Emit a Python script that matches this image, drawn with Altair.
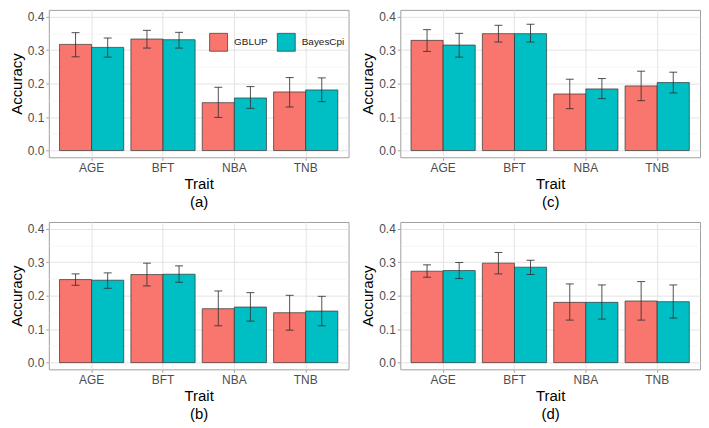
import altair as alt
import pandas as pd

traits = ["AGE", "BFT", "NBA", "TNB"]
methods = ["GBLUP", "BayesCpi"]
colors = ["#F8766D", "#00BFC4"]
panel_labels = ["(a)", "(c)", "(b)", "(d)"]

# panel (a)
a_g_mean = [0.317, 0.333, 0.143, 0.175]
a_g_lo = [0.280, 0.306, 0.099, 0.130]
a_g_hi = [0.352, 0.359, 0.189, 0.218]
a_b_mean = [0.308, 0.331, 0.157, 0.181]
a_b_lo = [0.279, 0.306, 0.126, 0.146]
a_b_hi = [0.336, 0.353, 0.191, 0.217]
# panel (b)
b_g_mean = [0.248, 0.263, 0.161, 0.149]
b_g_lo = [0.231, 0.229, 0.110, 0.097]
b_g_hi = [0.265, 0.297, 0.214, 0.201]
b_b_mean = [0.246, 0.264, 0.166, 0.154]
b_b_lo = [0.222, 0.240, 0.124, 0.110]
b_b_hi = [0.268, 0.289, 0.209, 0.198]
# panel (c)
c_g_mean = [0.329, 0.349, 0.169, 0.193]
c_g_lo = [0.296, 0.324, 0.125, 0.149]
c_g_hi = [0.361, 0.374, 0.213, 0.237]
c_b_mean = [0.315, 0.349, 0.184, 0.203]
c_b_lo = [0.279, 0.324, 0.155, 0.172]
c_b_hi = [0.350, 0.377, 0.215, 0.234]
# panel (d)
d_g_mean = [0.273, 0.297, 0.180, 0.184]
d_g_lo = [0.255, 0.265, 0.127, 0.127]
d_g_hi = [0.292, 0.329, 0.235, 0.242]
d_b_mean = [0.275, 0.285, 0.180, 0.182]
d_b_lo = [0.251, 0.263, 0.130, 0.133]
d_b_hi = [0.299, 0.306, 0.232, 0.232]

y_ticks = [0.0, 0.05, 0.1, 0.15, 0.2, 0.25, 0.3, 0.35, 0.4]

panel_data = {
    "(a)": (a_g_mean, a_g_lo, a_g_hi, a_b_mean, a_b_lo, a_b_hi),
    "(b)": (b_g_mean, b_g_lo, b_g_hi, b_b_mean, b_b_lo, b_b_hi),
    "(c)": (c_g_mean, c_g_lo, c_g_hi, c_b_mean, c_b_lo, c_b_hi),
    "(d)": (d_g_mean, d_g_lo, d_g_hi, d_b_mean, d_b_lo, d_b_hi),
}

W = 301
H = 148

minor_test = "round(datum.value * 20) % 2 == 1"


def make_panel(label, show_legend):
    gm, gl, gh, bm, bl, bh = panel_data[label]
    rows = []
    for i, t in enumerate(traits):
        rows.append({"Trait": t, "Method": "GBLUP", "Accuracy": gm[i], "lo": gl[i], "hi": gh[i]})
        rows.append({"Trait": t, "Method": "BayesCpi", "Accuracy": bm[i], "lo": bl[i], "hi": bh[i]})
    df = pd.DataFrame(rows)

    yscale = alt.Scale(domain=[-0.02, 0.42], nice=False, zero=False)
    yaxis = alt.Axis(
        title="Accuracy",
        values=y_ticks,
        labelExpr="round(datum.value * 20) % 2 == 0 ? format(datum.value, '.1f') : ''",
        grid=True,
        gridColor={"condition": {"test": minor_test, "value": "#F0F0F0"}, "value": "#E3E3E3"},
        gridWidth={"condition": {"test": minor_test, "value": 0.6}, "value": 1},
        tickColor={"condition": {"test": minor_test, "value": "transparent"}, "value": "#A0A0A0"},
    )
    xscale = alt.Scale(paddingInner=0.1, paddingOuter=0.15)
    xaxis = alt.Axis(
        title=["Trait", label],
        labelAngle=0,
        grid=True,
        bandPosition=0.5,
        gridColor="#E3E3E3",
        tickColor="#A0A0A0",
    )
    xenc = alt.X("Trait:N", sort=traits, scale=xscale, axis=xaxis)
    xoff = alt.XOffset("Method:N", sort=methods, scale=alt.Scale(paddingInner=0, paddingOuter=0))

    if show_legend:
        legend = alt.Legend(
            orient="none", legendX=161, legendY=23, direction="horizontal", title=None,
            symbolType="square", symbolSize=324, symbolStrokeColor="#333333",
            symbolStrokeWidth=0.7, labelFontSize=10, labelColor="#1A1A1A",
            columnPadding=8, labelOffset=6, symbolOpacity=1,
        )
    else:
        legend = None

    base = alt.Chart(df)
    bars = base.mark_bar(stroke="#333333", strokeWidth=0.7, opacity=1).encode(
        x=xenc, xOffset=xoff,
        y=alt.Y("Accuracy:Q", scale=yscale, axis=yaxis, stack=None),
        color=alt.Color("Method:N", sort=methods,
                        scale=alt.Scale(domain=methods, range=colors), legend=legend),
    )
    rules = base.mark_rule(color="#333333", strokeWidth=1, opacity=0.85).encode(
        x=xenc, xOffset=xoff,
        y=alt.Y("lo:Q", scale=yscale, axis=yaxis),
        y2="hi:Q",
    )
    cap_lo = base.mark_tick(color="#333333", size=8, thickness=1, opacity=0.85).encode(
        x=xenc, xOffset=xoff, y=alt.Y("lo:Q", scale=yscale, axis=yaxis),
    )
    cap_hi = base.mark_tick(color="#333333", size=8, thickness=1, opacity=0.85).encode(
        x=xenc, xOffset=xoff, y=alt.Y("hi:Q", scale=yscale, axis=yaxis),
    )
    return alt.layer(bars, rules, cap_lo, cap_hi).properties(width=W, height=H)


charts = [make_panel(lbl, lbl == "(a)") for lbl in panel_labels]

chart = alt.concat(*charts, columns=2, spacing={"row": 11, "column": 10}).resolve_scale(
    color="independent"
).resolve_legend(color="independent").properties(padding=0).configure(
    font="Liberation Sans"
).configure_view(
    stroke="#A0A0A0", strokeWidth=1
).configure_axis(
    domain=False,
    tickSize=3,
    labelFontSize=12,
    labelColor="#4D4D4D",
    labelPadding=2,
    titleFontSize=15,
    titleFontWeight="normal",
    titleColor="#000000",
    titlePadding=3,
    titleLineHeight=18,
)

chart.save("out.html", embed_options={"renderer": "svg", "actions": False})
